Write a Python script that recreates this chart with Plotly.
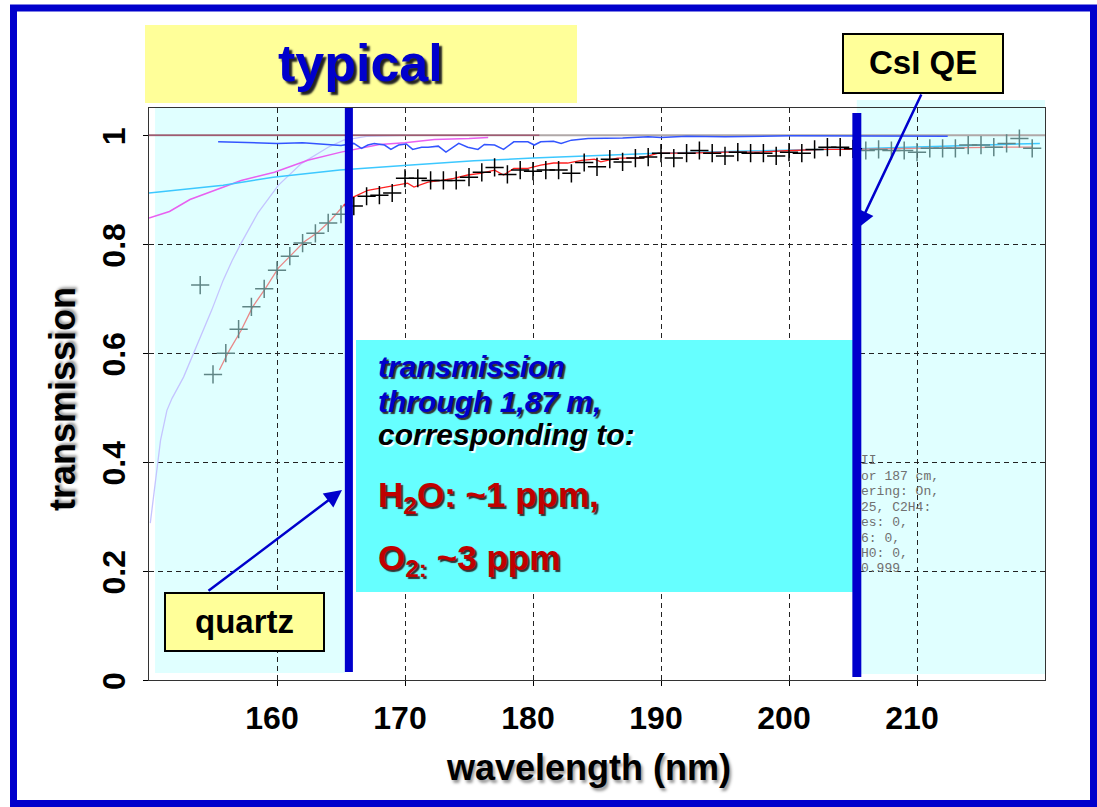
import plotly.graph_objects as go

# ---------------- data ----------------
lav_x = [150.1, 150.5, 150.9, 151.4, 151.8, 152.7, 153.7, 154.9, 155.8, 156.5, 157.2, 158.5, 160.1, 161.9, 164.0, 165.2, 167.0, 170.0]
lav_y = [0.288, 0.367, 0.44, 0.495, 0.517, 0.556, 0.611, 0.679, 0.734, 0.77, 0.802, 0.857, 0.908, 0.948, 0.978, 0.991, 0.998, 1.0]

mag_x = [150.0, 151.6, 153.2, 155.3, 157.2, 159.8, 162.4, 165.0, 166.0, 168.0, 170.0, 172.3, 175.0, 176.5]
mag_y = [0.848, 0.860, 0.882, 0.900, 0.917, 0.932, 0.954, 0.969, 0.974, 0.983, 0.986, 0.992, 0.994, 0.996]

cyan_x = [150.0, 155.8, 159.7, 164.9, 170.2, 175.4, 180.0, 184.2, 189.7, 197.0, 205.3, 212.0, 219.6]
cyan_y = [0.894, 0.908, 0.923, 0.936, 0.945, 0.953, 0.958, 0.962, 0.967, 0.971, 0.975, 0.980, 0.985]

blue_x = [155.4, 158.0, 160.0, 162.0, 164.0, 165.0, 166.0, 166.6, 167.1, 167.6, 168.4, 168.9, 169.5, 170.1,
          170.6, 171.3, 171.8, 172.6, 173.2, 173.8, 174.2, 174.9, 175.7, 176.2, 177.0, 177.7, 178.5, 179.6,
          180.1, 180.6, 181.6, 182.2, 183.0, 184.3, 185.1, 187.0, 189.0, 190.0, 192.0, 195.0, 200.0, 205.0, 212.4]
blue_y = [0.988, 0.987, 0.985, 0.986, 0.983, 0.981, 0.985, 0.976, 0.982, 0.985, 0.982, 0.974, 0.982, 0.984,
          0.974, 0.978, 0.978, 0.980, 0.969, 0.978, 0.985, 0.978, 0.974, 0.983, 0.982, 0.974, 0.988, 0.988,
          0.982, 0.988, 0.989, 0.985, 0.991, 0.994, 0.994, 0.995, 0.997, 0.996, 0.998, 0.997, 0.999, 0.999, 0.998]

unity_x = [150.0, 220.0]
unity_y = [1.0, 1.0]
mauve_x = [150.0, 180.5]
mauve_y = [1.0, 1.0]

red_x = [155.5, 156.2, 157.2, 158.1, 159.1, 160.1, 161.1, 162.1, 163.2, 164.2, 165.2, 166.0, 167.1, 168.1,
         169.1, 170.2, 170.7, 171.8, 172.8, 173.8, 174.9, 175.9, 177.0, 177.7, 178.5, 179.6, 180.6, 181.6,
         182.7, 183.8, 184.8, 185.3, 186.6, 188.4, 189.8, 192.3, 194.9, 197.6, 200.2, 202.7, 204.8, 209.3,
         217.3, 219.0]
red_y = [0.569, 0.602, 0.642, 0.685, 0.719, 0.756, 0.780, 0.804, 0.822, 0.844, 0.871, 0.887, 0.899, 0.903,
         0.908, 0.912, 0.905, 0.914, 0.917, 0.921, 0.927, 0.930, 0.936, 0.927, 0.939, 0.939, 0.945, 0.949,
         0.949, 0.954, 0.956, 0.951, 0.958, 0.958, 0.967, 0.967, 0.969, 0.969, 0.972, 0.974, 0.974, 0.976,
         0.978, 0.978]

cross_x = list(range(154, 220))
cross_y = [0.725, 0.561, 0.600, 0.644, 0.685, 0.718, 0.752, 0.778, 0.802, 0.820, 0.839, 0.855,
           0.870, 0.888, 0.890, 0.894, 0.921, 0.921, 0.917, 0.917, 0.917, 0.923, 0.932, 0.941,
           0.928, 0.936, 0.934, 0.936, 0.936, 0.930, 0.950, 0.942, 0.956, 0.951, 0.958, 0.960,
           0.967, 0.958, 0.967, 0.972, 0.967, 0.962, 0.969, 0.967, 0.967, 0.962, 0.969, 0.967,
           0.974, 0.978, 0.978, 0.975, 0.972, 0.974, 0.972, 0.972, 0.969, 0.976, 0.976, 0.976,
           0.982, 0.982, 0.978, 0.985, 0.994, 0.976]

x_tickvals = [160, 170, 180, 190, 200, 210]
x_ticktext = ['160', '170', '180', '190', '200', '210']
y_tickvals = [0, 0.2, 0.4, 0.6, 0.8, 1.0]
y_ticktext = ['0', '0.2', '0.4', '0.6', '0.8', '1']

quartz_edge = 165.6   # quartz cut-off marker (nm)
csi_edge = 205.3      # CsI QE cut-off marker (nm)

info_lines = ['II', 'or 187 cm,', 'ering: On,', '25, C2H4:', 'es: 0,', '6: 0,', 'H0: 0,', '0.999']

# ---------------- layout geometry ----------------
W, H = 1097, 807
L, R, T, B = 149, 1045, 108, 680
SANS = 'Liberation Sans, Arial, sans-serif'
BLUE = '#0000cc'
YEL = '#ffff99'


def px(xp):
    return (xp - L) / (R - L)


def py(yp):
    return (B - yp) / (B - T)


def in_band(v):
    return v < quartz_edge or v > csi_edge


fig = go.Figure()

fig.add_trace(go.Scatter(x=lav_x, y=lav_y, mode='lines', line=dict(color='#c4c4ff', width=1.3), hoverinfo='skip'))
fig.add_trace(go.Scatter(x=mag_x, y=mag_y, mode='lines', line=dict(color='#e860f0', width=1.5), hoverinfo='skip'))
fig.add_trace(go.Scatter(x=cyan_x, y=cyan_y, mode='lines', line=dict(color='#3cc8ff', width=1.5), hoverinfo='skip'))
fig.add_trace(go.Scatter(x=unity_x, y=unity_y, mode='lines', line=dict(color='#b0a8a8', width=2), hoverinfo='skip'))
fig.add_trace(go.Scatter(x=mauve_x, y=mauve_y, mode='lines', line=dict(color='#a05a72', width=1.5), hoverinfo='skip'))
fig.add_trace(go.Scatter(x=blue_x, y=blue_y, mode='lines', line=dict(color='#3355ff', width=1.5), hoverinfo='skip'))

# red fit: faded inside the shaded bands, bright in between
rl = [(x, y) for x, y in zip(red_x, red_y) if x <= quartz_edge + 0.5]
rm = [(x, y) for x, y in zip(red_x, red_y) if quartz_edge - 0.5 <= x <= csi_edge + 0.5]
rr = [(x, y) for x, y in zip(red_x, red_y) if x >= csi_edge - 0.6]
for seg, col in ((rl, '#e88888'), (rm, '#ff2020'), (rr, '#e88888')):
    fig.add_trace(go.Scatter(x=[p[0] for p in seg], y=[p[1] for p in seg], mode='lines',
                             line=dict(color=col, width=1.3), hoverinfo='skip'))

cross_col = ['#5f8585' if in_band(x) else '#000000' for x in cross_x]
fig.add_trace(go.Scatter(x=cross_x, y=cross_y, mode='markers',
                         marker=dict(symbol='cross-thin', size=13, color=cross_col,
                                     line=dict(color=cross_col, width=1.5)),
                         hoverinfo='skip'))

shapes = []
# slide frame
shapes.append(dict(type='rect', xref='paper', yref='paper', x0=px(13.5), x1=px(1093.5), y0=py(8), y1=py(803.5),
                   line=dict(color=BLUE, width=7), fillcolor='rgba(0,0,0,0)', layer='above'))
# shaded bands (quartz region / CsI region)
shapes.append(dict(type='rect', xref='x', yref='paper', x0=150.47, x1=quartz_edge - 0.3, y0=py(673), y1=py(108),
                   line=dict(width=0), fillcolor='rgba(193,255,255,0.5)', layer='between'))
shapes.append(dict(type='rect', xref='x', yref='paper', x0=csi_edge, x1=220.16, y0=py(674), y1=py(100),
                   line=dict(width=0), fillcolor='rgba(193,255,255,0.5)', layer='between'))
# "typical" banner
shapes.append(dict(type='rect', xref='paper', yref='paper', x0=px(145), x1=px(577), y0=py(103), y1=py(25),
                   line=dict(width=0), fillcolor=YEL, layer='above'))
# cyan info box
shapes.append(dict(type='rect', xref='paper', yref='paper', x0=px(356), x1=px(855), y0=py(592), y1=py(340),
                   line=dict(width=0), fillcolor='#66ffff', layer='above'))
# thick blue cut-off bars
shapes.append(dict(type='rect', xref='x', yref='paper', x0=quartz_edge - 0.3, x1=quartz_edge + 0.33,
                   y0=py(672), y1=py(108), line=dict(width=0), fillcolor=BLUE, layer='above'))
shapes.append(dict(type='rect', xref='x', yref='paper', x0=csi_edge - 0.35, x1=csi_edge + 0.35,
                   y0=py(677), y1=py(113), line=dict(width=0), fillcolor=BLUE, layer='above'))
# label boxes
shapes.append(dict(type='rect', xref='paper', yref='paper', x0=px(843), x1=px(1003), y0=py(93), y1=py(34),
                   line=dict(color='black', width=2), fillcolor=YEL, layer='above'))
shapes.append(dict(type='rect', xref='paper', yref='paper', x0=px(165), x1=px(324), y0=py(651), y1=py(593),
                   line=dict(color='black', width=2), fillcolor=YEL, layer='above'))

ann = []


def text(xp, yp, s, size, color, xanchor='center', **font_kw):
    f = dict(family=SANS, size=size, color=color, weight='bold')
    f.update(font_kw)
    ann.append(dict(xref='paper', yref='paper', x=px(xp), y=py(yp), text=s, showarrow=False,
                    xanchor=xanchor, yanchor='middle', font=f))


text(360, 63, 'typical', 52, BLUE, shadow='3px 3px 2px #222')
text(923, 63, 'CsI QE', 33, 'black')
text(244.5, 621, 'quartz', 33, 'black')
text(376, 366, 'transmission', 30, BLUE, xanchor='left', style='italic', shadow='2px 2px 1px #333')
text(376, 401, 'through 1,87 m,', 30, BLUE, xanchor='left', style='italic', shadow='2px 2px 1px #333')
text(376, 434, 'corresponding to:', 30, 'black', xanchor='left', style='italic', shadow='2px 2px 1px #ffffff')
text(376, 497, 'H<sub>2</sub>O: ~1 ppm,', 35, '#c00000', xanchor='left', shadow='2px 2px 1px #333')
text(376, 560, 'O<sub>2:</sub> ~3 ppm', 35, '#c00000', xanchor='left', shadow='2px 2px 1px #333')
text(588.5, 767, 'wavelength (nm)', 36, 'black', shadow='2px 3px 3px #999')
ann.append(dict(xref='paper', yref='paper', x=px(62), y=py(399), text='transmission', showarrow=False,
                textangle=-90, xanchor='center', yanchor='middle',
                font=dict(family=SANS, size=36, color='black', weight='bold', shadow='2px 2px 3px #999')))

for i, s in enumerate(info_lines):
    ann.append(dict(xref='paper', yref='paper', x=px(860), y=py(461 + 15.4 * i), text=s, showarrow=False,
                    xanchor='left', yanchor='middle', borderpad=0,
                    font=dict(family='Liberation Mono, DejaVu Sans Mono, monospace', size=13, color='#707070')))

# arrows
ann.append(dict(xref='paper', yref='paper', x=px(342), y=py(490), ax=207 - 342, ay=592 - 490, text='',
                showarrow=True, arrowhead=2, arrowsize=1.4, arrowwidth=2.5, arrowcolor=BLUE))
ann.append(dict(xref='paper', yref='paper', x=px(858), y=py(228), ax=922 - 858, ay=93 - 228, text='',
                showarrow=True, arrowhead=2, arrowsize=1.4, arrowwidth=2.5, arrowcolor=BLUE))

fig.update_layout(
    width=W, height=H, autosize=False,
    margin=dict(l=L, r=W - R, t=T, b=H - B, pad=0),
    paper_bgcolor='white', plot_bgcolor='white',
    showlegend=False,
    shapes=shapes, annotations=ann,
    xaxis=dict(range=[150, 220], tickvals=x_tickvals, ticktext=x_ticktext,
               showgrid=True, gridcolor='#222222', griddash='5px,4px', gridwidth=1,
               showline=True, linecolor='#333333', linewidth=1, mirror=True,
               ticks='outside', ticklen=5, tickcolor='black', zeroline=False,
               tickfont=dict(family=SANS, size=32, color='black', weight='bold'),
               ticklabelstandoff=5, ticklabelshift=-5),
    yaxis=dict(range=[0, 1.05], tickvals=y_tickvals, ticktext=y_ticktext,
               showgrid=True, gridcolor='#222222', griddash='5px,4px', gridwidth=1,
               showline=True, linecolor='#333333', linewidth=1, mirror=True,
               ticks='outside', ticklen=5, tickcolor='black', zeroline=False,
               tickangle=-90,
               tickfont=dict(family=SANS, size=32, color='black', weight='bold'),
               ticklabelstandoff=5, ticklabelshift=6),
)

fig.write_html('out.html')
